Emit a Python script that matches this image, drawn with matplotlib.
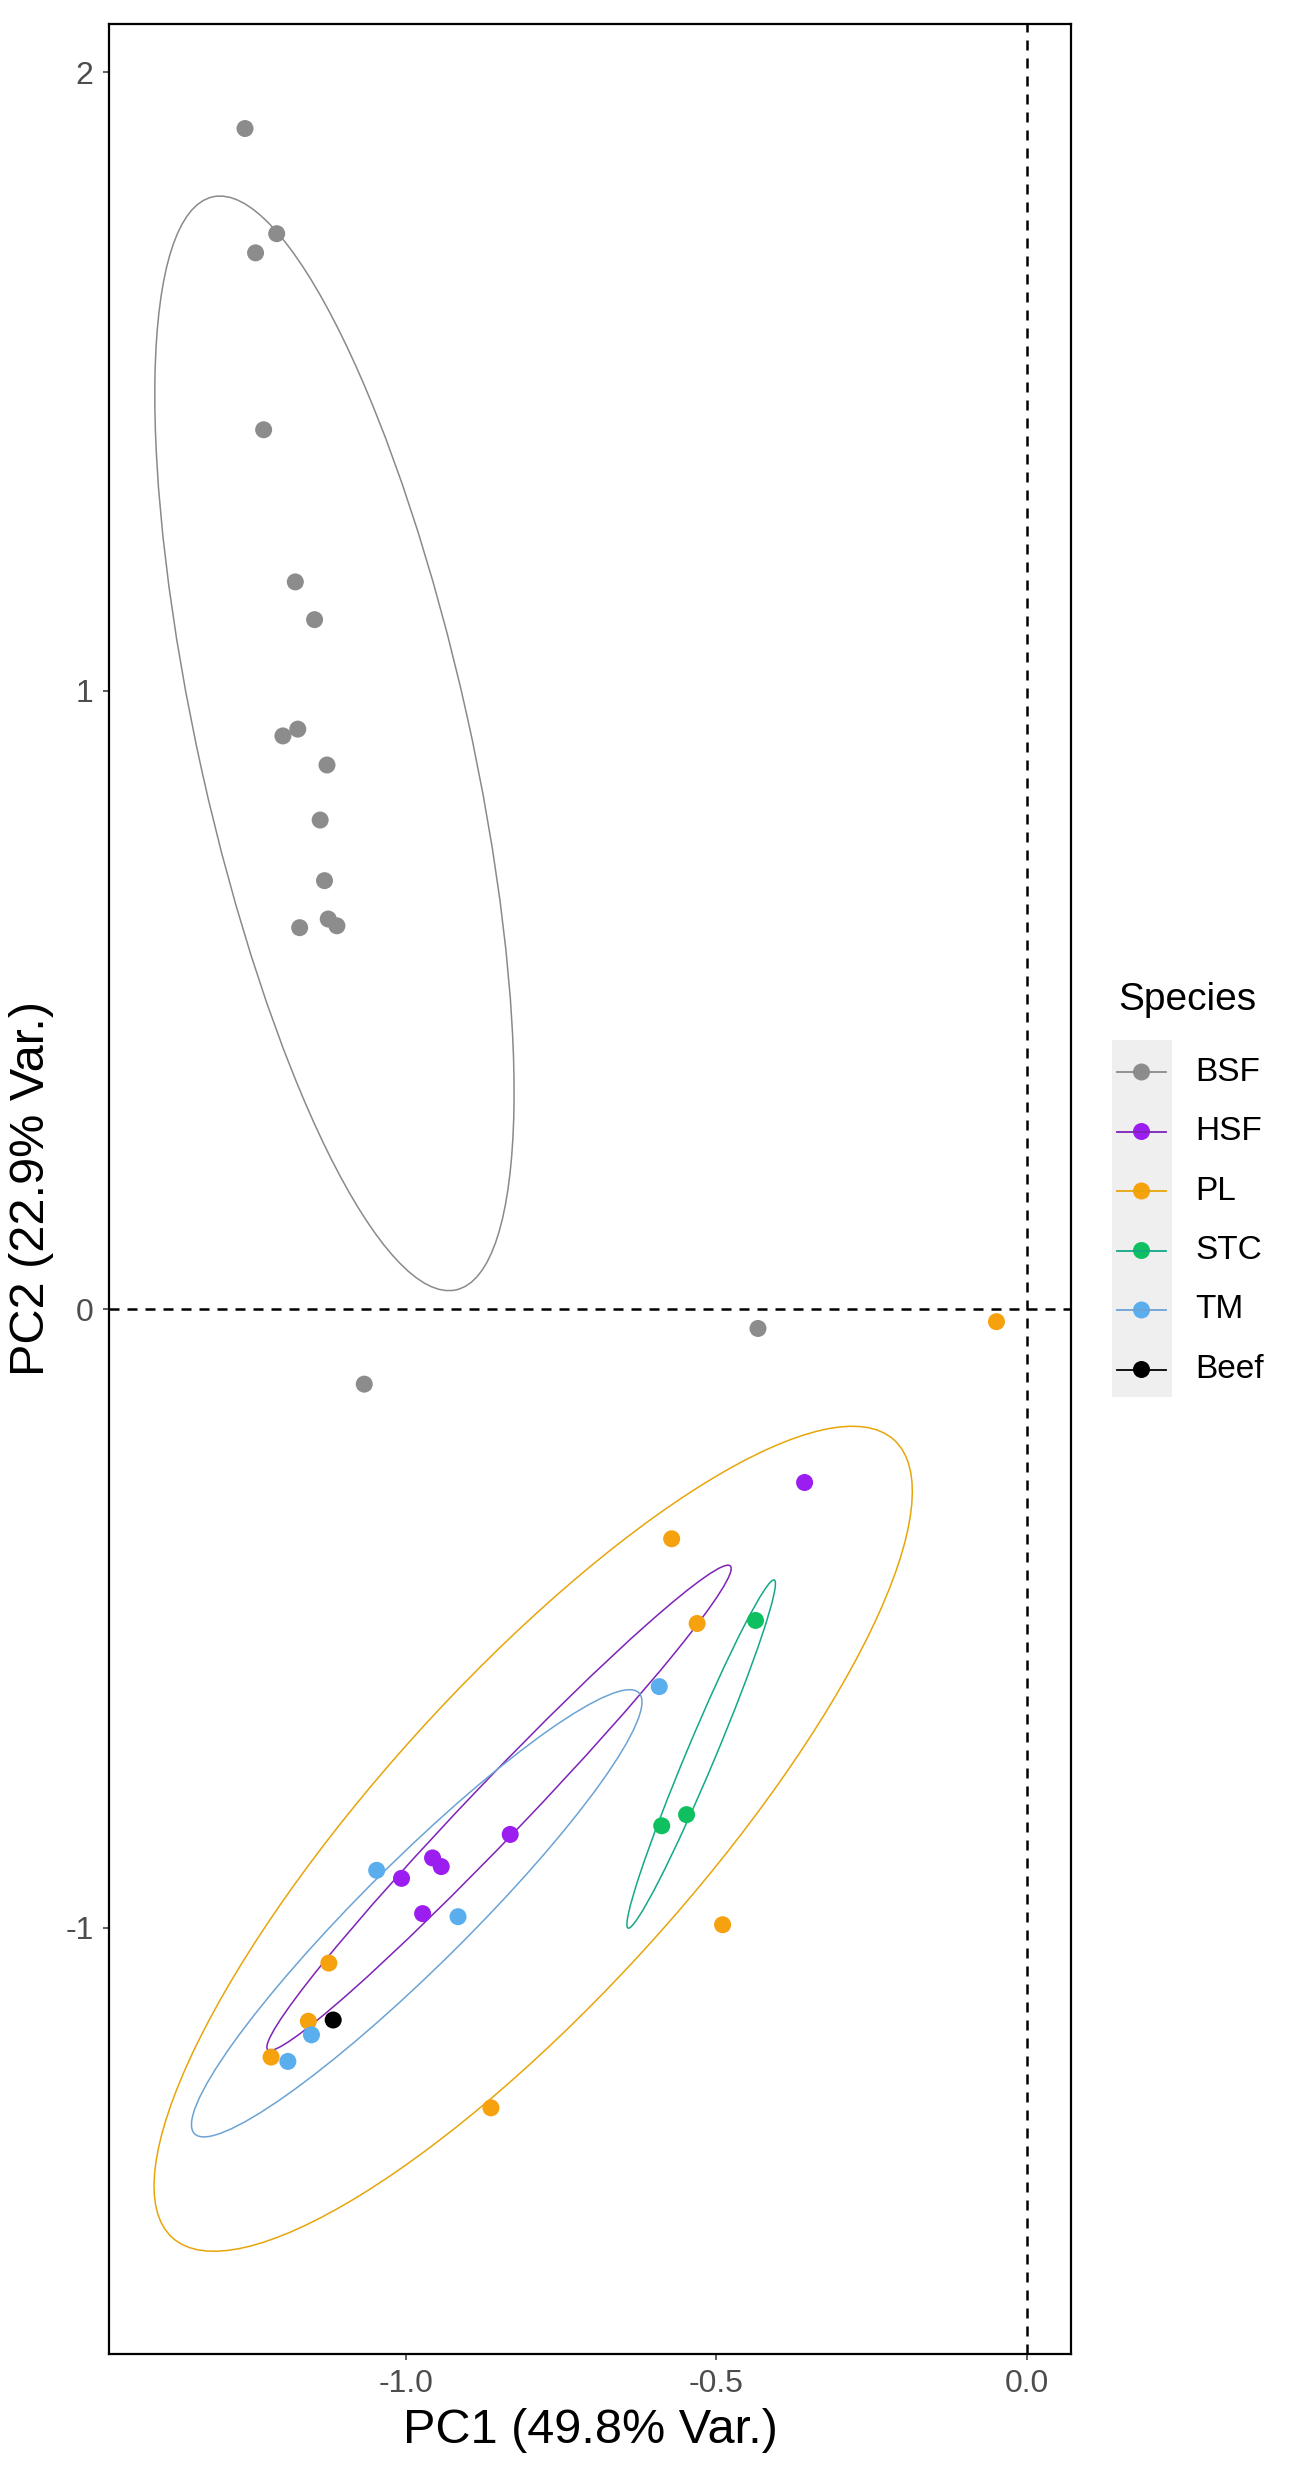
import numpy as np
import matplotlib
matplotlib.use("Agg")
import matplotlib.pyplot as plt
from matplotlib.patches import Rectangle, Ellipse

plt.rcParams['font.family'] = ['Liberation Sans', 'DejaVu Sans']

# PCA scores
species = ["BSF", "HSF", "PL", "STC", "TM", "Beef"]
colors = ["#8C8C8C", "#9B1DF0", "#F6A10E", "#0FC060", "#5AAEEE", "#000000"]
line_colors = ["#8A8A8A", "#7E22B8", "#E8A50A", "#13A887", "#6BA3D4", "#000000"]

bsf_pc1 = [-1.259, -1.208, -1.242, -1.229, -1.178, -1.147, -1.198, -1.174,
           -1.127, -1.138, -1.131, -1.171, -1.125, -1.111, -1.067, -0.433]
bsf_pc2 = [1.909, 1.739, 1.708, 1.422, 1.176, 1.115, 0.927, 0.938,
           0.880, 0.791, 0.693, 0.617, 0.631, 0.620, -0.121, -0.031]
hsf_pc1 = [-0.358, -1.007, -0.957, -0.943, -0.832, -0.973]
hsf_pc2 = [-0.280, -0.920, -0.887, -0.901, -0.849, -0.977]
pl_pc1 = [-0.049, -0.572, -0.531, -1.124, -1.157, -1.217, -0.490, -0.863]
pl_pc2 = [-0.020, -0.371, -0.508, -1.057, -1.151, -1.209, -0.995, -1.291]
stc_pc1 = [-0.437, -0.588, -0.548]
stc_pc2 = [-0.503, -0.835, -0.817]
tm_pc1 = [-0.592, -1.047, -0.916, -1.152, -1.190]
tm_pc2 = [-0.610, -0.907, -0.982, -1.173, -1.216]
beef_pc1 = [-1.117]
beef_pc2 = [-1.149]

groups = [(bsf_pc1, bsf_pc2), (hsf_pc1, hsf_pc2), (pl_pc1, pl_pc2),
          (stc_pc1, stc_pc2), (tm_pc1, tm_pc2), (beef_pc1, beef_pc2)]

# confidence ellipses (Beef has none)
ell_species = ["BSF", "HSF", "PL", "STC", "TM"]
ell_cx = [-1.115, -0.850, -0.795, -0.5245, -0.9825]
ell_cy = [0.915, -0.806, -0.856, -0.719, -0.9765]
ell_a = [0.905, 0.540, 0.868, 0.305, 0.505]      # semi-major
ell_b = [0.218, 0.045, 0.253, 0.023, 0.085]      # semi-minor
ell_angle = [102.5, 46.4, 48.0, 67.3, 44.9]      # degrees

xticks = [-1.0, -0.5, 0.0]
yticks = [-1, 0, 1, 2]

W, H = 1299, 2480
fig = plt.figure(figsize=(W / 100, H / 100), dpi=100)
ax = fig.add_axes([109 / W, 1 - 2354 / H, (1071 - 109) / W, (2354 - 24) / H])

ax.axhline(0, color="black", lw=1.8, ls=(0, (4, 3.2)), zorder=1)
ax.axvline(0, color="black", lw=1.8, ls=(0, (4, 3.2)), zorder=1)

for i, name in enumerate(ell_species):
    c = line_colors[species.index(name)]
    ax.add_patch(Ellipse((ell_cx[i], ell_cy[i]), 2 * ell_a[i], 2 * ell_b[i],
                         angle=ell_angle[i], fill=False, ec=c, lw=1.1, zorder=2))

for (px, py), c in zip(groups, colors):
    ax.scatter(px, py, s=150, color=c, edgecolors="none", zorder=3)

ax.set_xlim(-1.478, 0.071)
ax.set_ylim(-1.689, 2.078)
ax.set_xticks(xticks)
ax.set_xticklabels([f"{v:.1f}" for v in xticks])
ax.set_yticks(yticks)
ax.set_yticklabels([str(v) for v in yticks])
ax.tick_params(length=4, width=1.1, color="#333333", labelcolor="#4D4D4D",
               labelsize=23, pad=7)
for s in ax.spines.values():
    s.set_linewidth(1.6)
ax.set_xlabel("PC1 (49.8% Var.)", fontsize=35, labelpad=6)
ax.set_ylabel("PC2 (22.9% Var.)", fontsize=35, labelpad=8)

# legend in ggplot style
fig.text(1118 / W, 1 - 1000 / H, "Species", fontsize=28, va="center", ha="left")
lax = fig.add_axes([1112 / W, 1 - 1397 / H, (W - 1112) / W, (1397 - 1040) / H])
lax.set_xlim(0, W - 1112)
lax.set_ylim(357, 0)
lax.axis("off")
lax.add_patch(Rectangle((0, 0), 60, 357, color="#EFEFEF", lw=0))
for i, (name, c) in enumerate(zip(species, colors)):
    yy = 32 + 59.5 * i
    lax.plot([5, 54], [yy, yy], color=line_colors[i], lw=1.3)
    lax.scatter([29.5], [yy], s=150, color=c, edgecolors="none")
    lax.text(83, yy, name, fontsize=24, va="center", ha="left")

fig.savefig("out.png", dpi=100)
